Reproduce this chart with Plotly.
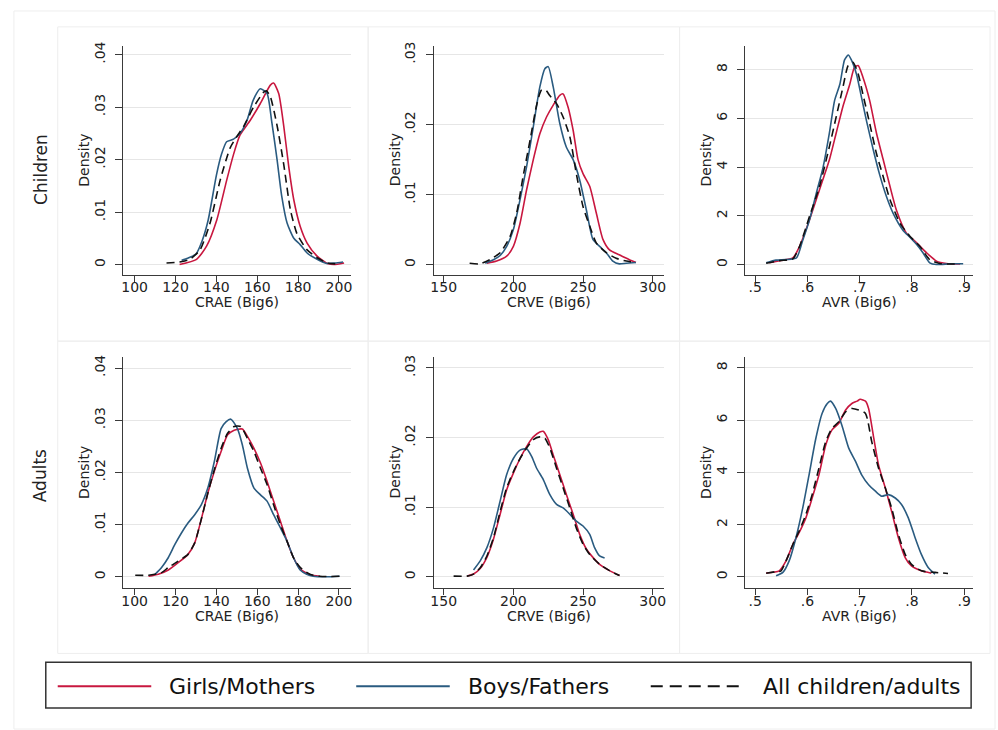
import plotly.graph_objects as go

# ---------------- DATA ----------------
SERIES_NAMES = ["Girls/Mothers", "Boys/Fathers", "All children/adults"]
ROW_LABELS = ["Children", "Adults"]
X_TITLES = ["CRAE (Big6)", "CRVE (Big6)", "AVR (Big6)"]
Y_TITLE = "Density"

# x ticks per column
crae_ticks = [100, 120, 140, 160, 180, 200]
crae_ticktext = ["100", "120", "140", "160", "180", "200"]
crve_ticks = [150, 200, 250, 300]
crve_ticktext = ["150", "200", "250", "300"]
avr_ticks = [0.5, 0.6, 0.7, 0.8, 0.9]
avr_ticktext = [".5", ".6", ".7", ".8", ".9"]
# y ticks per column
crae_yticks = [0, 0.01, 0.02, 0.03, 0.04]
crae_yticktext = ["0", ".01", ".02", ".03", ".04"]
crve_yticks = [0, 0.01, 0.02, 0.03]
crve_yticktext = ["0", ".01", ".02", ".03"]
avr_yticks = [0, 2, 4, 6, 8]
avr_yticktext = ["0", "2", "4", "6", "8"]

# Children CRAE
ch_crae_girls_x = [122, 130.3, 135.2, 140.2, 145, 148.4, 151.6, 156.6, 161.5, 166.4, 168, 170.5, 173, 175.4, 177.9, 181, 184.4, 189.3, 194.3, 197.5, 202.5]
ch_crae_girls_y = [0, 0.001, 0.0035, 0.0085, 0.016, 0.021, 0.0247, 0.0275, 0.0307, 0.0342, 0.0346, 0.0326, 0.0263, 0.0187, 0.0123, 0.0073, 0.0041, 0.0016, 0.0002, 0, 0.0003]
ch_crae_boys_x = [123, 126, 130, 133, 136, 140, 142.5, 145, 148.4, 151.6, 155, 158, 161.5, 164.8, 167, 169.7, 172, 174.6, 177.9, 181, 184.4, 189.3, 194, 198, 202]
ch_crae_boys_y = [0.0008, 0.0012, 0.002, 0.0045, 0.0085, 0.017, 0.021, 0.0234, 0.0239, 0.025, 0.0275, 0.0313, 0.0335, 0.0326, 0.0275, 0.02, 0.013, 0.0079, 0.005, 0.0038, 0.0022, 0.001, 0.0002, 0.0003, 0.0005]
ch_crae_all_x = [115.6, 122, 127, 132, 136.9, 141.8, 146.7, 150, 153.3, 158.2, 163, 164.5, 166.4, 169.7, 173, 176.2, 179.5, 184.4, 189.3, 194.3, 200]
ch_crae_all_y = [0.0003, 0.0005, 0.001, 0.0028, 0.0079, 0.016, 0.0222, 0.0244, 0.0263, 0.030, 0.0328, 0.0331, 0.032, 0.0265, 0.019, 0.0105, 0.0058, 0.0028, 0.0013, 0.0003, 0.0001]

# Children CRVE
ch_crve_girls_x = [181, 188, 195.2, 200, 204.8, 209.5, 214.3, 219, 223.8, 228.6, 233.3, 235.7, 239.3, 242.9, 246.4, 250, 254.8, 259.5, 264.3, 269, 276, 283.3, 288]
ch_crve_girls_y = [0.0002, 0.0005, 0.0012, 0.0026, 0.0059, 0.0107, 0.015, 0.0187, 0.0211, 0.0228, 0.0242, 0.0244, 0.0225, 0.0192, 0.015, 0.013, 0.0112, 0.0074, 0.0036, 0.0021, 0.0014, 0.0007, 0.0003]
ch_crve_boys_x = [179.8, 185.7, 190.5, 195.2, 200, 204.8, 209.5, 214.3, 219, 222.6, 225, 228.6, 233.3, 238, 242.9, 247.6, 252.4, 257.1, 261.9, 266.7, 271.4, 276, 281, 288]
ch_crve_boys_y = [0.0002, 0.0007, 0.0013, 0.0026, 0.005, 0.0093, 0.014, 0.0197, 0.0254, 0.028, 0.0283, 0.0254, 0.0202, 0.0168, 0.015, 0.0121, 0.0078, 0.0036, 0.0026, 0.0017, 0.0005, 0.0001, 0.0002, 0.0003]
ch_crve_all_x = [168.6, 176, 183, 190.5, 197.6, 202.4, 207, 212, 216.7, 220, 223, 226, 231, 235.7, 240.5, 245.2, 250, 254.8, 259.5, 266.7, 273.8, 281, 288]
ch_crve_all_y = [0.0002, 0.0001, 0.0007, 0.0017, 0.004, 0.0074, 0.0126, 0.0178, 0.0228, 0.0249, 0.025, 0.0242, 0.023, 0.0211, 0.0183, 0.013, 0.0083, 0.0055, 0.0031, 0.0017, 0.0009, 0.0005, 0.0003]

# Children AVR
ch_avr_girls_x = [0.527, 0.547, 0.572, 0.585, 0.604, 0.623, 0.642, 0.655, 0.668, 0.681, 0.690, 0.697, 0.706, 0.719, 0.732, 0.745, 0.758, 0.770, 0.789, 0.809, 0.828, 0.847, 0.866, 0.892]
ch_avr_girls_y = [0.07, 0.16, 0.27, 0.75, 1.84, 3.07, 4.3, 5.4, 6.5, 7.4, 8.1, 8.17, 7.7, 6.74, 5.4, 4.3, 3.2, 2.25, 1.3, 0.89, 0.48, 0.14, 0.04, 0.02]
ch_avr_boys_x = [0.521, 0.540, 0.559, 0.579, 0.591, 0.604, 0.617, 0.630, 0.642, 0.652, 0.662, 0.671, 0.678, 0.684, 0.694, 0.703, 0.713, 0.726, 0.738, 0.751, 0.764, 0.783, 0.796, 0.809, 0.821, 0.834, 0.847, 0.873, 0.898]
ch_avr_boys_y = [0.07, 0.18, 0.2, 0.27, 1.0, 1.84, 2.93, 4.0, 5.4, 6.74, 7.4, 8.4, 8.6, 8.4, 7.8, 6.9, 5.9, 4.7, 3.7, 2.8, 2.1, 1.4, 1.12, 0.82, 0.48, 0.07, 0.0, 0.03, 0.03]
ch_avr_all_x = [0.521, 0.547, 0.572, 0.585, 0.604, 0.623, 0.642, 0.655, 0.668, 0.678, 0.687, 0.697, 0.706, 0.719, 0.732, 0.745, 0.758, 0.777, 0.796, 0.815, 0.834, 0.853, 0.892]
ch_avr_all_y = [0.05, 0.16, 0.23, 0.75, 1.98, 3.2, 4.84, 6.06, 7.29, 8.17, 8.3, 7.83, 7.0, 5.8, 4.56, 3.6, 2.66, 1.7, 1.16, 0.75, 0.2, 0.04, 0.02]

# Adults CRAE
ad_crae_girls_x = [106.8, 111.6, 116.5, 121.3, 126.1, 129.4, 132.6, 135.8, 139, 142.3, 145.5, 148.7, 152.7, 155.2, 158.4, 161.6, 164.8, 168, 171.3, 174.5, 177.7, 181, 185.8, 190.6]
ad_crae_girls_y = [0.0001, 0.0005, 0.0013, 0.0027, 0.0043, 0.0065, 0.011, 0.016, 0.0202, 0.024, 0.0272, 0.0281, 0.0283, 0.0269, 0.0246, 0.0218, 0.0183, 0.0145, 0.0107, 0.0069, 0.0037, 0.0015, 0.0004, 0.0001]
ad_crae_boys_x = [110, 113.2, 116.5, 119.7, 122.9, 126.1, 129.4, 132.6, 135.8, 139, 142.3, 144.7, 147.1, 150.3, 152.7, 155.2, 158.4, 161.6, 164.8, 168, 171.3, 174.5, 177.7, 181, 184.2, 187.4, 193.9, 200.3]
ad_crae_boys_y = [0.0005, 0.0018, 0.0037, 0.0062, 0.0084, 0.0103, 0.0119, 0.0138, 0.017, 0.0221, 0.0284, 0.0297, 0.0302, 0.0284, 0.0253, 0.0208, 0.017, 0.0157, 0.0145, 0.0119, 0.0094, 0.0069, 0.0037, 0.0013, 0.0005, 0.0001, 0, 0.0001]
ad_crae_all_x = [100.3, 106.8, 113.2, 116.5, 121.3, 126.1, 129.4, 132.6, 135.8, 139, 142.3, 145.5, 148.7, 151.9, 155.2, 158.4, 161.6, 164.8, 168, 171.3, 174.5, 177.7, 181, 185.8, 190.6, 200.3]
ad_crae_all_y = [0.0003, 0.0003, 0.0008, 0.0018, 0.003, 0.0043, 0.0065, 0.011, 0.016, 0.0205, 0.0246, 0.0275, 0.0288, 0.0288, 0.0265, 0.024, 0.0208, 0.0177, 0.0138, 0.01, 0.0069, 0.0037, 0.0018, 0.0005, 0.0001, 0.0001]

# Adults CRVE
ad_crve_girls_x = [166.7, 171.4, 176.2, 181, 185.7, 190.5, 195.2, 200, 204.8, 209.5, 214.3, 219, 221.4, 225, 228.6, 233.3, 238.1, 242.9, 247.6, 252.4, 257.1, 261.9, 269, 276.2]
ad_crve_girls_y = [0.0001, 0.0004, 0.0012, 0.0028, 0.0054, 0.009, 0.0125, 0.0149, 0.017, 0.0187, 0.0201, 0.0208, 0.0209, 0.0197, 0.0175, 0.0147, 0.0118, 0.009, 0.0061, 0.004, 0.0028, 0.0018, 0.0009, 0.0002]
ad_crve_boys_x = [171.4, 176.2, 181, 185.7, 190.5, 195.2, 200, 204.8, 209.5, 213.1, 216.7, 221.4, 226.2, 231, 235.7, 240.5, 245.2, 250, 254.8, 258.3, 261.9, 265.5]
ad_crve_boys_y = [0.001, 0.0023, 0.0042, 0.007, 0.0109, 0.0147, 0.017, 0.0182, 0.0184, 0.0173, 0.0156, 0.014, 0.0118, 0.0104, 0.0099, 0.009, 0.008, 0.0073, 0.0061, 0.0042, 0.003, 0.0027]
ad_crve_all_x = [157.1, 166.7, 171.4, 176.2, 181, 185.7, 190.5, 195.2, 200, 204.8, 209.5, 214.3, 219, 222.6, 226.2, 231, 235.7, 240.5, 245.2, 250, 254.8, 261.9, 269, 276.2]
ad_crve_all_y = [0.0001, 0.0001, 0.0004, 0.0013, 0.003, 0.0056, 0.0094, 0.0128, 0.0151, 0.017, 0.0185, 0.0197, 0.0201, 0.0199, 0.0185, 0.0156, 0.0128, 0.0099, 0.007, 0.0047, 0.0032, 0.0018, 0.0009, 0.0002]

# Adults AVR
ad_avr_girls_x = [0.521, 0.546, 0.559, 0.572, 0.584, 0.597, 0.609, 0.622, 0.635, 0.647, 0.660, 0.673, 0.685, 0.695, 0.701, 0.711, 0.717, 0.727, 0.736, 0.749, 0.761, 0.774, 0.787, 0.799, 0.818, 0.837]
ad_avr_girls_y = [0.15, 0.23, 0.61, 1.24, 1.69, 2.26, 3.02, 3.91, 5.05, 5.63, 5.88, 6.39, 6.64, 6.73, 6.8, 6.73, 6.45, 5.3, 4.29, 3.4, 2.51, 1.5, 0.74, 0.42, 0.23, 0.14]
ad_avr_boys_x = [0.540, 0.553, 0.565, 0.578, 0.591, 0.603, 0.616, 0.628, 0.638, 0.644, 0.654, 0.666, 0.679, 0.692, 0.704, 0.717, 0.730, 0.742, 0.755, 0.768, 0.780, 0.793, 0.806, 0.818, 0.831, 0.844]
ad_avr_boys_y = [0.04, 0.17, 0.61, 1.5, 2.64, 3.9, 5.3, 6.26, 6.64, 6.73, 6.45, 5.8, 4.93, 4.42, 3.9, 3.53, 3.28, 3.09, 3.15, 3.02, 2.77, 2.26, 1.5, 0.86, 0.36, 0.1]
ad_avr_all_x = [0.521, 0.540, 0.549, 0.559, 0.572, 0.584, 0.597, 0.609, 0.622, 0.635, 0.647, 0.660, 0.673, 0.685, 0.698, 0.711, 0.723, 0.736, 0.749, 0.761, 0.774, 0.787, 0.799, 0.818, 0.844, 0.869]
ad_avr_all_y = [0.14, 0.2, 0.22, 0.61, 1.24, 1.75, 2.39, 3.15, 4.17, 5.18, 5.69, 5.94, 6.32, 6.45, 6.39, 6.26, 5.18, 4.17, 3.4, 2.64, 1.63, 0.86, 0.48, 0.23, 0.17, 0.13]

# ---------------- STYLE / LAYOUT ----------------
W, H = 998, 730
COLORS = ["#c8173f", "#2a5b80", "#111111"]
DASHES = ["solid", "solid", "8px,5px"]
FONT = "DejaVu Sans"
AXIS_COLOR = "#3a3a3a"
GRID_COLOR = "#e6e6e6"
TEXT_COLOR = "#222222"

def px_x(v):
    return v / W

def px_y(v):
    return 1 - v / H

col_px = [(121, 350), (433, 664), (746, 975)]
row_px = [(42, 272), (355, 587)]

x_ranges = [[94.5, 206.0], [142.9, 307.9], [0.481, 0.917]]
y_ranges = [
    [[-0.0019, 0.0417], [-0.00142, 0.03128], [-0.41, 8.98]],
    [[-0.0021, 0.0421], [-0.00157, 0.03157], [-0.419, 8.419]],
]
x_tick_sets = [(crae_ticks, crae_ticktext), (crve_ticks, crve_ticktext), (avr_ticks, avr_ticktext)]
y_tick_sets = [(crae_yticks, crae_yticktext), (crve_yticks, crve_yticktext), (avr_yticks, avr_yticktext)]

panels = [
    [
        [(ch_crae_girls_x, ch_crae_girls_y), (ch_crae_boys_x, ch_crae_boys_y), (ch_crae_all_x, ch_crae_all_y)],
        [(ch_crve_girls_x, ch_crve_girls_y), (ch_crve_boys_x, ch_crve_boys_y), (ch_crve_all_x, ch_crve_all_y)],
        [(ch_avr_girls_x, ch_avr_girls_y), (ch_avr_boys_x, ch_avr_boys_y), (ch_avr_all_x, ch_avr_all_y)],
    ],
    [
        [(ad_crae_girls_x, ad_crae_girls_y), (ad_crae_boys_x, ad_crae_boys_y), (ad_crae_all_x, ad_crae_all_y)],
        [(ad_crve_girls_x, ad_crve_girls_y), (ad_crve_boys_x, ad_crve_boys_y), (ad_crve_all_x, ad_crve_all_y)],
        [(ad_avr_girls_x, ad_avr_girls_y), (ad_avr_boys_x, ad_avr_boys_y), (ad_avr_all_x, ad_avr_all_y)],
    ],
]

fig = go.Figure()
layout = dict(
    width=W, height=H, autosize=False,
    margin=dict(l=0, r=0, t=0, b=0),
    paper_bgcolor="white", plot_bgcolor="white",
    showlegend=False,
    font=dict(family=FONT, size=14, color=TEXT_COLOR),
)
annotations = []
shapes = []

k = 0
for r in range(2):
    for c in range(3):
        k += 1
        xa = "x" if k == 1 else f"x{k}"
        ya = "y" if k == 1 else f"y{k}"
        for s, (xs, ys) in enumerate(panels[r][c]):
            fig.add_trace(go.Scatter(
                x=xs, y=ys, mode="lines", name=SERIES_NAMES[s],
                line=dict(color=COLORS[s], width=1.6, dash=DASHES[s], shape="spline", smoothing=0.6),
                xaxis=xa, yaxis=ya, hoverinfo="skip",
            ))
        x0, x1 = col_px[c]
        y0, y1 = row_px[r]
        tv, tt = x_tick_sets[c]
        layout[f"xaxis{k}" if k > 1 else "xaxis"] = dict(
            domain=[px_x(x0), px_x(x1)], range=x_ranges[c], anchor=ya,
            tickvals=tv, ticktext=tt, ticks="outside", ticklen=6, tickwidth=1,
            tickcolor=AXIS_COLOR, showline=True, linecolor=AXIS_COLOR, linewidth=1.2,
            showgrid=False, zeroline=False, fixedrange=True, ticklabelstandoff=-6,
            tickfont=dict(family=FONT, size=14, color=TEXT_COLOR),
        )
        tv, tt = y_tick_sets[c]
        layout[f"yaxis{k}" if k > 1 else "yaxis"] = dict(
            domain=[px_y(y1), px_y(y0)], range=y_ranges[r][c], anchor=xa,
            tickvals=tv, ticktext=tt, ticks="outside", ticklen=7, tickwidth=1,
            tickcolor=AXIS_COLOR, showline=True, linecolor=AXIS_COLOR, linewidth=1.2,
            showgrid=True, gridcolor=GRID_COLOR, gridwidth=1, zeroline=False,
            tickangle=-90, ticklabelstandoff=5, fixedrange=True,
            tickfont=dict(family=FONT, size=14, color=TEXT_COLOR),
        )
        # axis titles
        annotations.append(dict(
            text=X_TITLES[c], xref="paper", yref="paper",
            x=px_x((x0 + x1) / 2), y=px_y(y1 + 28),
            xanchor="center", yanchor="middle", showarrow=False,
            font=dict(family=FONT, size=14, color=TEXT_COLOR),
        ))
        annotations.append(dict(
            text=Y_TITLE, xref="paper", yref="paper",
            x=px_x(x0 - 39), y=px_y((y0 + y1) / 2),
            xanchor="center", yanchor="middle", showarrow=False, textangle=-90,
            font=dict(family=FONT, size=14, color=TEXT_COLOR),
        ))

# row labels
row_label_y = [166, 474]
for r in range(2):
    annotations.append(dict(
        text=ROW_LABELS[r], xref="paper", yref="paper",
        x=px_x(38), y=px_y(row_label_y[r]), xanchor="center", yanchor="middle",
        showarrow=False, textangle=-90, font=dict(family=FONT, size=17, color=TEXT_COLOR),
    ))

# faint frames
FRAME = "#eeeeee"
shapes.append(dict(type="rect", xref="paper", yref="paper", x0=px_x(11), x1=px_x(997), y0=px_y(729), y1=px_y(7),
                   line=dict(color=FRAME, width=1), layer="below"))
for (cx0, cy0, cx1, cy1) in [(55, 23, 367, 339), (367, 23, 680, 339), (680, 23, 992, 339),
                             (55, 339, 367, 653), (367, 339, 680, 653), (680, 339, 992, 653)]:
    shapes.append(dict(type="rect", xref="paper", yref="paper", x0=px_x(cx0), x1=px_x(cx1),
                       y0=px_y(cy1), y1=px_y(cy0), line=dict(color=FRAME, width=1), layer="below"))

# legend box (drawn manually to match long line keys)
shapes.append(dict(type="rect", xref="paper", yref="paper", x0=px_x(43), x1=px_x(973), y0=px_y(708), y1=px_y(662),
                   line=dict(color="#333333", width=1.5), fillcolor="white"))
leg_line = [(55, 149), (355, 449), (651, 746)]
leg_text_x = [165, 465, 762]
leg_y = 686
LEG_DASH = ["solid", "solid", "12px,7px"]
for s in range(3):
    shapes.append(dict(type="line", xref="paper", yref="paper", x0=px_x(leg_line[s][0]), x1=px_x(leg_line[s][1]),
                       y0=px_y(leg_y), y1=px_y(leg_y), line=dict(color=COLORS[s], width=1.8, dash=LEG_DASH[s])))
    annotations.append(dict(
        text=SERIES_NAMES[s], xref="paper", yref="paper", x=px_x(leg_text_x[s]), y=px_y(leg_y),
        xanchor="left", yanchor="middle", showarrow=False,
        font=dict(family=FONT, size=22, color="#111"),
    ))

layout["annotations"] = annotations
layout["shapes"] = shapes
fig.update_layout(**layout)

fig.write_html("out.html", config={"displayModeBar": False},
               post_script="document.body.style.margin='0px';document.body.style.overflow='hidden';")
